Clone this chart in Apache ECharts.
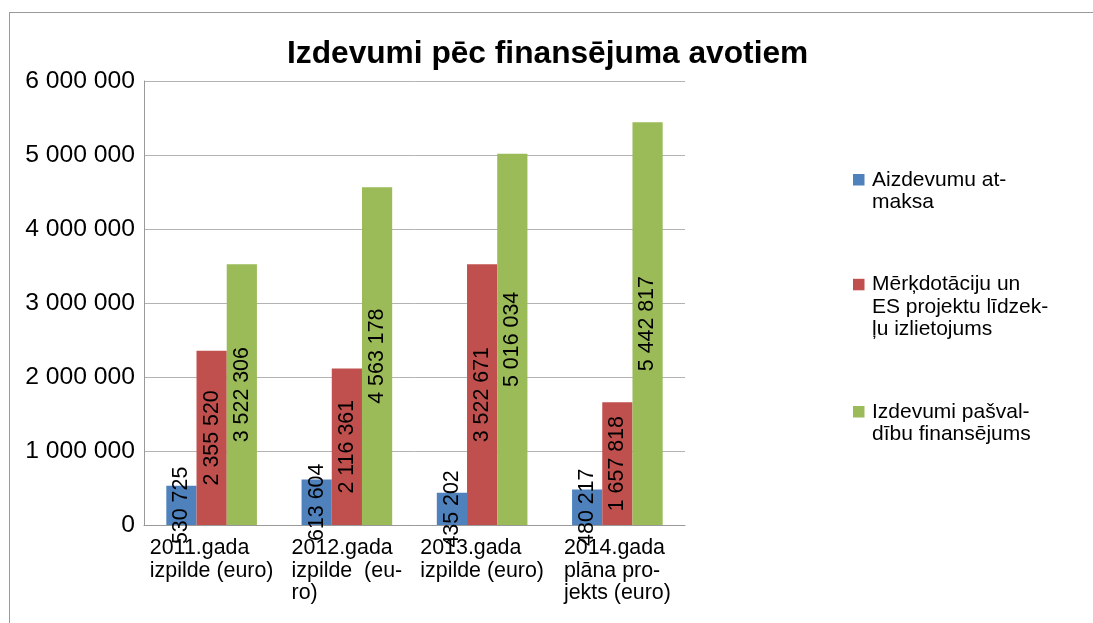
<!DOCTYPE html>
<html>
<head>
<meta charset="utf-8">
<script src="https://cdn.jsdelivr.net/npm/echarts@6/dist/echarts.min.js"></script>
<style>
  html, body { margin: 0; padding: 0; background: #fff; }
  #wrap { position: relative; width: 1093px; height: 623px; overflow: hidden; }
  #frame { position: absolute; left: 9px; top: 12px; width: 1200px; height: 800px;
           border-top: 1px solid #9a9a9a; border-left: 1px solid #9a9a9a; }
  #chart { position: absolute; left: 0; top: 0; width: 1093px; height: 623px; }
</style>
</head>
<body>
<div id="wrap"><div id="frame"></div><div id="chart"></div></div>
<script>
const titleText = 'Izdevumi pēc finansējuma avotiem';
const categories = ['2011.gada\nizpilde (euro)', '2012.gada\nizpilde  (eu-\nro)', '2013.gada\nizpilde (euro)', '2014.gada\nplāna pro-\njekts (euro)'];
const seriesNames = ['Aizdevumu at-\nmaksa', 'Mērķdotāciju un\nES projektu līdzek-\nļu izlietojums', 'Izdevumi pašval-\ndību finansējums'];
const aizdevumuAtmaksa = [530725, 613604, 435202, 480217];
const merkdotacijas = [2355520, 2116361, 3522671, 1657818];
const pasvaldibuFinansejums = [3522306, 4563178, 5016034, 5442817];
const yTicks = [0, 1000000, 2000000, 3000000, 4000000, 5000000, 6000000];
const colors = ['#4f81bd', '#c0504d', '#9bbb59'];

const FONT = "'Liberation Sans', Arial, sans-serif";
function fmt(v) {
  return String(Math.round(v)).replace(/\B(?=(\d{3})+(?!\d))/g, ' ');
}
// legend icons: square aligned with first text line
const iconTwoLine = 'path://M0,0L0,0M14,68L14,68M0,17L11.5,17L11.5,28.5L0,28.5Z';
const iconThreeLine = 'path://M0,0L0,0M14,68L14,68M0,5.8L11.5,5.8L11.5,17.3L0,17.3Z';

const chart = echarts.init(document.getElementById('chart'), null, { renderer: 'canvas' });
const valueSeries = [aizdevumuAtmaksa, merkdotacijas, pasvaldibuFinansejums];

chart.setOption({
  animation: false,
  backgroundColor: 'transparent',
  title: {
    text: titleText,
    left: 287, top: 38.6, padding: 0,
    textStyle: { fontFamily: FONT, fontSize: 31.7, fontWeight: 'bold', color: '#000', lineHeight: 31.7 }
  },
  legend: {
    orient: 'vertical',
    left: 853, top: 157,
    itemWidth: 14, itemHeight: 68, itemGap: 48,
    padding: 0,
    textStyle: { fontFamily: FONT, fontSize: 21, color: '#000', lineHeight: 22.5 },
    data: seriesNames.map((n, i) => ({ name: n, icon: i === 1 ? iconThreeLine : iconTwoLine }))
  },
  grid: { left: 144, right: 408, top: 81, bottom: 98, containLabel: false, outerBoundsMode: 'none' },
  xAxis: {
    type: 'category',
    data: categories,
    axisLine: { show: true, lineStyle: { color: '#999', width: 1 } },
    axisTick: { show: false },
    axisLabel: {
      interval: 0, margin: 12, color: '#000',
      formatter: function (v) { return v.split('\n').map(s => '{a|' + s + '}').join('\n'); },
      rich: { a: { align: 'left', fontFamily: FONT, fontSize: 21.4, lineHeight: 22.5, color: '#000' } }
    }
  },
  yAxis: {
    type: 'value',
    min: yTicks[0], max: yTicks[yTicks.length - 1], interval: yTicks[1] - yTicks[0],
    axisLine: { show: true, lineStyle: { color: '#999', width: 1 } },
    axisTick: { show: false },
    splitLine: { show: true, lineStyle: { color: '#b3b3b3', width: 1 } },
    axisLabel: { margin: 9, color: '#000', fontFamily: FONT, fontSize: 24.7, formatter: fmt }
  },
  series: seriesNames.map((n, i) => ({
    name: n,
    type: 'bar',
    data: valueSeries[i],
    barCategoryGap: '33%',
    barGap: '0%',
    itemStyle: { color: colors[i] },
    label: {
      show: true, position: 'inside', rotate: 90,
      fontFamily: FONT, fontSize: 21.4, color: '#000',
      formatter: p => fmt(p.value)
    }
  }))
});
</script>
</body>
</html>
